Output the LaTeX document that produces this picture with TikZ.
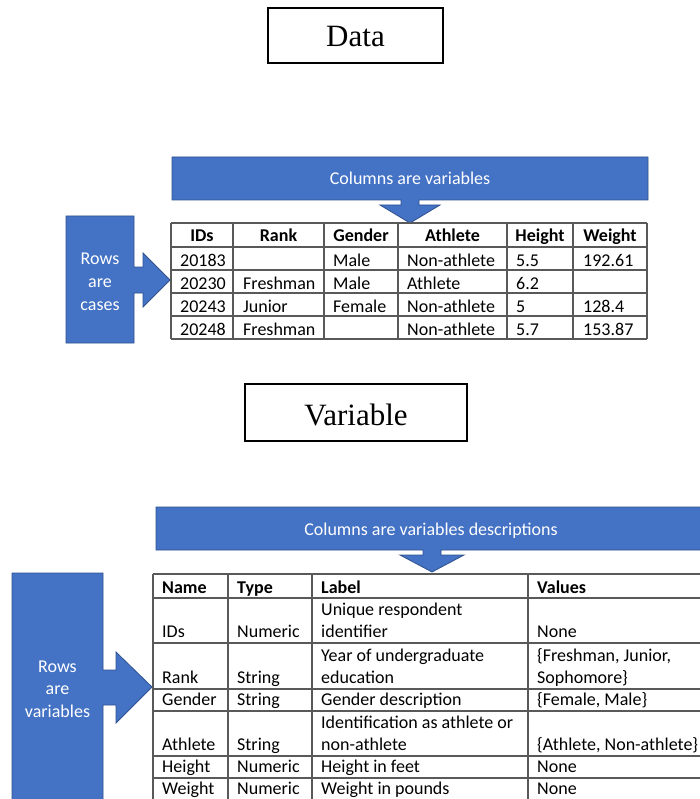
\documentclass[tikz,border=0pt]{standalone}
\usepackage{fontspec}
\setmainfont{Carlito}
\newfontfamily\titlefont{Liberation Serif}
\definecolor{callblue}{HTML}{4472C4}
\definecolor{calledge}{HTML}{2F528F}
\begin{document}
\begin{tikzpicture}[x=1pt,y=-1pt,
  callout/.style={fill=callblue,draw=calledge,line width=0.8pt},
  txt/.style={anchor=base west,inner sep=0pt,font=\fontsize{18}{22}\selectfont},
  htxt/.style={anchor=base,inner sep=0pt,font=\fontsize{18}{22}\selectfont\bfseries},
  hltxt/.style={anchor=base west,inner sep=0pt,font=\fontsize{18}{22}\selectfont\bfseries},
  wtxt/.style={anchor=base,text=white,inner sep=0pt,font=\fontsize{18}{22}\selectfont},
  gridline/.style={draw=black!65,line width=1.2pt},
  titlebox/.style={draw=black,line width=1.2pt},
  titletxt/.style={anchor=base,inner sep=0pt,font=\titlefont\fontsize{31}{34}\selectfont}]
\clip (0,0) rectangle (700,799);
\fill[white] (0,0) rectangle (700,799);

% ---------- Title boxes ----------
\draw[titlebox] (268,8) rectangle (443,63);
\node[titletxt] (data) at (355.5,47) {Data};
\draw[titlebox] (245,384) rectangle (467,441);
\node[titletxt] (variable) at (356,425) {Variable};

% ---------- Callouts, first table ----------
\draw[callout] (172,157) -- (648,157) -- (648,200) -- (419,200) -- (419,205) -- (440,205)
  -- (410,223) -- (380,205) -- (401,205) -- (401,200) -- (172,200) -- cycle;
\node[wtxt] (colvar) at (410,185) {Columns are variables};

\draw[callout] (66,216) -- (134,216) -- (134,267) -- (143,267) -- (143,253) -- (170,280)
  -- (143,307) -- (143,293) -- (134,293) -- (134,343) -- (66,343) -- cycle;
\node[wtxt] (rc1) at (100,265) {Rows};
\node[wtxt] (rc2) at (100,287.5) {are};
\node[wtxt] (rc3) at (100,310) {cases};

% ---------- First table ----------
\foreach \y in {223,247,270,293,316,339} \draw[gridline] (171,\y) -- (647,\y);
\foreach \x in {171,233,324,398,507,573,647} \draw[gridline] (\x,223) -- (\x,339);

\node[htxt] (h1) at (202,242) {IDs};
\node[htxt] (h2) at (278.5,242) {Rank};
\node[htxt] (h3) at (361,242) {Gender};
\node[htxt] (h4) at (452.5,242) {Athlete};
\node[htxt] (h5) at (540,242) {Height};
\node[htxt] (h6) at (610,242) {Weight};

\node[txt] (a11) at (180,266) {20183};
\node[txt] (a13) at (333,266) {Male};
\node[txt] (a14) at (407,266) {Non-athlete};
\node[txt] (a15) at (516,266) {5.5};
\node[txt] (a16) at (583,266) {192.61};

\node[txt] (a21) at (180,289) {20230};
\node[txt] (a22) at (243,289) {Freshman};
\node[txt] (a23) at (333,289) {Male};
\node[txt] (a24) at (407,289) {Athlete};
\node[txt] (a25) at (516,289) {6.2};

\node[txt] (a31) at (180,312) {20243};
\node[txt] (a32) at (243,312) {Junior};
\node[txt] (a33) at (333,312) {Female};
\node[txt] (a34) at (407,312) {Non-athlete};
\node[txt] (a35) at (516,312) {5};
\node[txt] (a36) at (583,312) {128.4};

\node[txt] (a41) at (180,335) {20248};
\node[txt] (a42) at (243,335) {Freshman};
\node[txt] (a44) at (407,335) {Non-athlete};
\node[txt] (a45) at (516,335) {5.7};
\node[txt] (a46) at (583,335) {153.87};

% ---------- Callouts, second table ----------
\draw[callout] (156,507) -- (705,507) -- (705,550) -- (441,550) -- (441,555) -- (464,555)
  -- (432,572) -- (400,555) -- (423,555) -- (423,550) -- (156,550) -- cycle;
\node[wtxt] (coldesc) at (431,535) {Columns are variables descriptions};

\draw[callout] (12,573) -- (103,573) -- (103,670) -- (116,670) -- (116,652) -- (152,687)
  -- (116,723) -- (116,705) -- (103,705) -- (103,805) -- (12,805) -- cycle;
\node[wtxt] (rv1) at (57.5,672) {Rows};
\node[wtxt] (rv2) at (57.5,694.5) {are};
\node[wtxt] (rv3) at (57.5,717) {variables};

% ---------- Second table ----------
\foreach \y in {574,598,643,689,711,756,778} \draw[gridline] (153,\y) -- (720,\y);
\foreach \x in {153,228,312,528} \draw[gridline] (\x,574) -- (\x,805);

\node[hltxt] (g1) at (162,593) {Name};
\node[hltxt] (g2) at (237,593) {Type};
\node[hltxt] (g3) at (321,593) {Label};
\node[hltxt] (g4) at (537,593) {Values};

\node[txt] (b11) at (162,637) {IDs};
\node[txt] (b12) at (237,637) {Numeric};
\node[txt] (b13a) at (321,615) {Unique respondent};
\node[txt] (b13b) at (321,637) {identifier};
\node[txt] (b14) at (537,637) {None};

\node[txt] (b21) at (162,683) {Rank};
\node[txt] (b22) at (237,683) {String};
\node[txt] (b23a) at (321,661) {Year of undergraduate};
\node[txt] (b23b) at (321,683) {education};
\node[txt] (b24a) at (537,661) {\{Freshman, Junior,};
\node[txt] (b24b) at (537,683) {Sophomore\}};

\node[txt] (b31) at (162,705) {Gender};
\node[txt] (b32) at (237,705) {String};
\node[txt] (b33) at (321,705) {Gender description};
\node[txt] (b34) at (537,705) {\{Female, Male\}};

\node[txt] (b41) at (162,750) {Athlete};
\node[txt] (b42) at (237,750) {String};
\node[txt] (b43a) at (321,728) {Identification as athlete or};
\node[txt] (b43b) at (321,750) {non-athlete};
\node[txt] (b44) at (537,750) {\{Athlete, Non-athlete\}};

\node[txt] (b51) at (162,772) {Height};
\node[txt] (b52) at (237,772) {Numeric};
\node[txt] (b53) at (321,772) {Height in feet};
\node[txt] (b54) at (537,772) {None};

\node[txt] (b61) at (162,794) {Weight};
\node[txt] (b62) at (237,794) {Numeric};
\node[txt] (b63) at (321,794) {Weight in pounds};
\node[txt] (b64) at (537,794) {None};
\end{tikzpicture}
\end{document}
